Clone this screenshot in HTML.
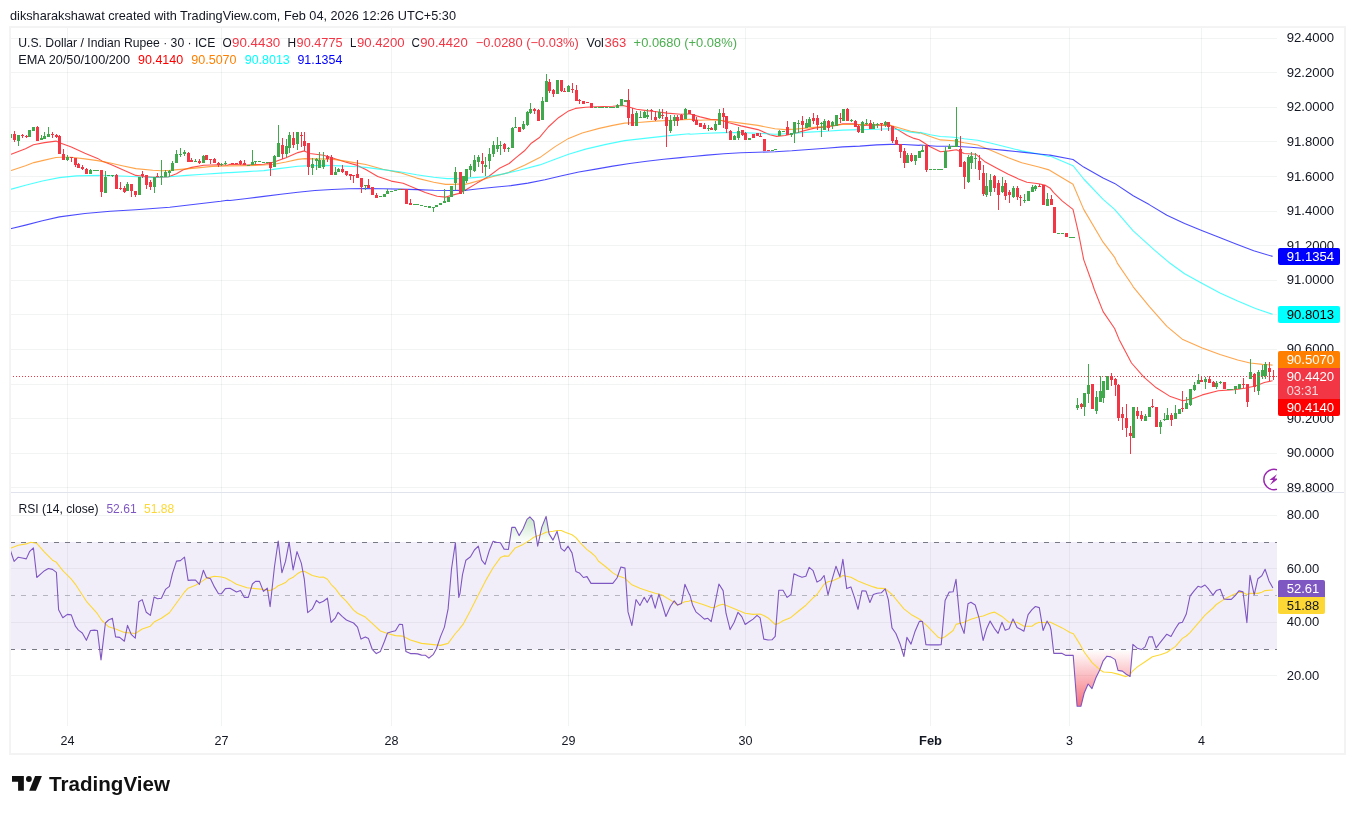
<!DOCTYPE html>
<html><head><meta charset="utf-8"><title>USDINR chart</title>
<style>html,body{margin:0;padding:0;background:#fff;overflow:hidden}body{width:1355px;height:814px;font-family:"Liberation Sans",sans-serif}svg{display:block;will-change:transform}</style></head>
<body>
<svg width="1355" height="814" viewBox="0 0 1355 814" font-family="Liberation Sans, sans-serif">
<defs>
<clipPath id="cm"><rect x="10.0" y="27.0" width="1267.0" height="465.5"/></clipPath>
<clipPath id="cr"><rect x="10.0" y="492.5" width="1267.0" height="233.5"/></clipPath>
<linearGradient id="gob" gradientUnits="userSpaceOnUse" x1="0" y1="462.1" x2="0" y2="542.5"><stop offset="0" stop-color="#4caf50" stop-opacity="1"/><stop offset="1" stop-color="#4caf50" stop-opacity="0"/></linearGradient>
<linearGradient id="gos" gradientUnits="userSpaceOnUse" x1="0" y1="649.5" x2="0" y2="728.9"><stop offset="0" stop-color="#f23645" stop-opacity="0"/><stop offset="1" stop-color="#f23645" stop-opacity="1"/></linearGradient>
</defs>
<rect width="1355" height="814" fill="#ffffff"/>
<path d="M67.5 27.0V726.0M221.5 27.0V726.0M391.5 27.0V726.0M568.5 27.0V726.0M745.5 27.0V726.0M930.5 27.0V726.0M1069.5 27.0V726.0M1201.5 27.0V726.0" stroke="#2a2e39" stroke-opacity="0.06" stroke-width="1" fill="none" shape-rendering="crispEdges"/>
<path d="M10.0 38.5H1277.0M10.0 72.5H1277.0M10.0 107.5H1277.0M10.0 141.5H1277.0M10.0 176.5H1277.0M10.0 211.5H1277.0M10.0 245.5H1277.0M10.0 280.5H1277.0M10.0 314.5H1277.0M10.0 349.5H1277.0M10.0 384.5H1277.0M10.0 418.5H1277.0M10.0 453.5H1277.0M10.0 487.5H1277.0M10.0 515.5H1277.0M10.0 568.5H1277.0M10.0 622.5H1277.0M10.0 675.5H1277.0" stroke="#2a2e39" stroke-opacity="0.06" stroke-width="1" fill="none" shape-rendering="crispEdges"/>
<rect x="10.0" y="542.0" width="1267.0" height="107.5" fill="#7e57c2" fill-opacity="0.1"/>
<g clip-path="url(#cm)">
<path d="M10.5 154.6L25.5 148.7L33.4 144.8L44.5 142.6L56.0 141.1L60.3 143.1L71.3 147.0L84.9 153.3L97.6 158.4L101.8 160.9L110.3 164.3L122.2 169.4L135.8 175.4L144.3 176.5L152.8 177.4L168.0 177.0L176.5 173.7L183.3 169.7L191.8 167.4L203.7 165.2L219.0 164.7L227.5 165.2L230.0 164.2L247.0 165.0L263.9 164.2L274.1 162.0L286.0 157.7L297.9 152.6L304.3 150.9L309.8 153.5L323.4 155.2L331.8 157.7L345.4 162.0L357.3 165.4L365.8 169.6L377.7 176.4L391.3 181.1L403.1 183.2L413.3 187.4L425.2 192.5L437.1 196.2L445.6 197.1L452.4 195.1L459.2 193.4L466.8 189.3L477.0 183.1L488.9 176.3L499.0 168.6L509.2 163.5L516.0 157.6L524.5 150.8L531.3 143.2L539.8 137.2L548.3 127.0L558.5 117.7L568.6 110.9L575.4 108.4L585.6 107.2L595.8 106.7L612.8 106.3L623.0 105.5L628.0 106.7L636.5 109.2L646.7 110.6L656.9 111.8L667.1 113.1L680.7 114.3L689.2 114.0L690.0 114.0L700.2 116.9L710.4 119.4L718.9 119.7L729.0 122.8L740.9 125.9L757.9 129.6L769.8 134.7L776.6 136.4L785.1 135.5L795.2 133.3L805.4 130.4L815.6 127.9L825.8 127.0L836.0 125.4L842.8 123.7L853.0 123.7L863.1 125.4L876.7 125.0L890.3 125.4L898.8 130.4L907.3 135.5L914.1 138.4L919.2 139.8L920.0 140.2L930.2 146.7L940.4 151.8L948.9 150.9L956.5 149.7L964.1 153.5L976.0 154.3L984.5 161.4L996.4 167.9L1008.3 174.2L1018.5 178.9L1026.9 182.3L1038.8 183.7L1045.6 185.4L1049.9 187.9L1053.5 192.3L1062.4 201.1L1073.0 209.4L1078.3 232.1L1083.7 259.6L1092.5 284.0L1094.3 289.5L1103.1 311.6L1114.6 328.5L1119.1 339.4L1131.5 363.0L1143.9 377.2L1156.3 387.8L1170.4 396.6L1182.8 400.7L1191.7 398.9L1202.3 394.9L1218.3 390.8L1234.2 389.6L1244.8 388.3L1255.5 386.0L1264.3 382.5L1272.6 380.7" stroke="#ff0000" stroke-width="1.1" stroke-opacity="0.7" fill="none" stroke-linejoin="round"/>
<path d="M10.5 170.8L25.5 165.7L33.9 162.6L44.5 160.1L56.0 157.5L61.1 157.2L71.3 157.2L84.9 158.9L97.6 160.6L110.3 163.0L122.2 165.7L135.8 168.6L152.8 170.3L161.3 170.8L169.7 170.4L183.3 169.1L195.2 168.1L212.2 166.4L227.5 166.0L230.0 165.9L247.0 165.7L263.9 165.0L274.1 164.2L286.0 162.0L297.9 159.4L304.7 158.6L314.9 158.9L331.8 159.1L345.4 161.1L357.3 163.1L365.8 164.5L382.8 169.3L399.7 172.6L416.7 178.1L433.7 182.3L445.6 184.4L454.1 184.4L459.2 184.0L460.0 185.6L470.2 183.1L482.1 179.7L493.9 176.3L507.5 172.9L524.5 165.2L539.8 157.6L555.1 146.6L568.6 138.4L582.2 133.0L599.2 128.4L612.8 125.4L624.6 123.1L638.2 122.5L655.2 121.1L672.2 120.3L689.2 119.4L690.0 119.4L700.2 120.3L710.4 119.7L723.9 120.8L740.9 123.1L757.9 125.4L774.9 128.7L785.1 129.6L795.2 129.1L808.8 127.9L825.8 126.2L842.8 124.5L859.7 124.5L876.7 124.5L890.3 125.4L902.2 128.7L910.7 131.3L919.2 132.6L920.0 132.8L930.2 136.5L940.4 139.9L953.9 140.7L964.1 142.8L977.7 145.0L991.3 150.6L1008.3 157.7L1021.8 162.8L1038.8 167.0L1049.0 169.9L1050.0 170.5L1073.0 184.3L1083.7 209.4L1103.1 242.2L1114.6 257.3L1117.3 263.1L1131.5 284.0L1133.2 286.8L1149.2 306.3L1166.9 326.3L1182.8 339.6L1202.3 347.9L1220.0 354.5L1237.7 360.0L1250.1 363.0L1262.5 364.4L1272.6 365.1" stroke="#ff8000" stroke-width="1.1" stroke-opacity="0.7" fill="none" stroke-linejoin="round"/>
<path d="M10.5 189.4L25.5 185.2L42.4 181.0L59.4 177.6L76.4 175.9L101.8 175.4L127.3 176.2L140.9 177.0L152.8 177.4L169.7 176.7L186.7 175.4L203.7 174.2L220.7 173.1L227.5 172.6L230.0 172.6L247.0 171.6L263.9 170.6L280.9 168.4L297.9 166.2L306.4 165.9L323.4 165.4L340.3 165.9L357.3 166.7L365.8 167.4L382.8 169.6L399.7 171.8L416.7 174.7L433.7 177.2L447.3 178.6L459.2 178.4L460.0 178.8L473.6 177.6L487.2 176.8L502.4 174.1L519.4 170.3L539.8 164.9L555.1 159.3L568.6 154.2L585.6 149.1L606.0 144.4L624.6 140.6L646.7 138.1L667.1 135.9L689.2 133.8L690.0 134.2L707.0 133.3L723.9 132.6L740.9 132.6L757.9 133.3L774.9 134.2L791.8 133.5L808.8 132.1L825.8 131.3L842.8 130.1L859.7 129.6L876.7 129.3L890.3 128.7L898.8 129.6L910.7 132.1L919.2 133.3L920.0 132.3L930.2 134.8L940.4 136.5L953.9 137.3L964.1 138.7L977.7 140.2L991.3 143.3L1008.3 147.5L1021.8 150.9L1038.8 154.0L1049.0 156.5L1050.0 155.9L1073.0 165.7L1083.7 179.0L1103.1 199.3L1114.6 209.4L1133.2 230.9L1154.5 250.2L1168.7 262.2L1184.6 273.7L1202.3 283.5L1220.0 293.0L1237.7 301.0L1255.5 308.4L1272.6 314.3" stroke="#00ffff" stroke-width="1.1" stroke-opacity="0.7" fill="none" stroke-linejoin="round"/>
<path d="M10.5 228.8L25.5 225.1L42.4 220.7L59.4 216.9L84.9 213.5L110.3 211.3L135.8 209.8L169.7 207.3L195.2 204.2L220.7 201.3L227.5 200.3L230.0 200.5L247.0 198.5L263.9 196.4L280.9 194.2L297.9 192.2L314.9 190.5L331.8 189.5L348.8 188.8L365.8 188.6L382.8 188.8L399.7 189.1L416.7 189.6L433.7 190.3L450.7 190.5L459.2 190.3L460.0 191.0L477.0 189.0L493.9 187.3L510.9 185.6L527.9 183.1L544.9 179.7L561.8 175.8L578.8 172.0L595.8 169.1L612.8 166.1L629.7 163.5L646.7 161.3L663.7 159.3L680.7 157.6L689.2 156.8L690.0 156.8L707.0 155.1L723.9 153.7L740.9 152.8L757.9 152.2L774.9 151.7L791.8 150.8L808.8 149.5L825.8 148.3L842.8 146.9L859.7 146.1L876.7 144.9L890.3 144.4L903.9 144.5L919.2 145.4L920.0 145.0L937.0 146.2L953.9 146.3L970.9 147.2L987.9 148.7L1004.9 150.4L1021.8 152.1L1038.8 154.0L1049.0 155.0L1050.0 155.1L1073.0 159.5L1083.7 167.1L1103.1 178.1L1114.6 183.4L1133.2 195.8L1149.2 204.6L1166.9 215.3L1184.6 223.6L1202.3 230.7L1218.3 237.1L1236.0 244.0L1253.7 250.7L1272.6 256.4" stroke="#0000ff" stroke-width="1.1" stroke-opacity="0.7" fill="none" stroke-linejoin="round"/>
<path d="M10 133h1v6h-1zM18 135h1v11h-1zM29 130h1v7h-1zM33 127h1v4h-1zM41 135h1v5h-1zM44 132h1v7h-1zM48 127h1v10h-1zM67 155h1v6h-1zM90 169h1v5h-1zM94 170h1v1h-1zM97 170h1v1h-1zM105 171h1v22h-1zM108 175h1v1h-1zM112 175h1v2h-1zM127 182h1v9h-1zM139 177h1v18h-1zM154 177h1v16h-1zM161 160h1v25h-1zM165 170h1v7h-1zM169 170h1v7h-1zM172 161h1v10h-1zM176 150h1v13h-1zM180 148h1v9h-1zM184 150h1v6h-1zM195 159h1v3h-1zM203 155h1v8h-1zM221 163h1v3h-1zM225 161h1v4h-1zM248 165h1v1h-1zM252 150h1v15h-1zM255 161h1v3h-1zM259 161h1v1h-1zM263 162h1v1h-1zM267 162h1v1h-1zM274 155h1v12h-1zM278 125h1v32h-1zM286 139h1v18h-1zM289 132h1v21h-1zM297 132h1v18h-1zM312 158h1v17h-1zM316 158h1v12h-1zM319 152h1v16h-1zM323 152h1v17h-1zM335 167h1v8h-1zM338 168h1v4h-1zM365 185h1v5h-1zM380 196h1v1h-1zM384 194h1v3h-1zM387 189h1v5h-1zM391 191h1v1h-1zM395 190h1v1h-1zM399 189h1v1h-1zM414 204h1v1h-1zM417 204h1v1h-1zM421 205h1v1h-1zM425 206h1v1h-1zM429 206h1v2h-1zM433 207h1v5h-1zM436 205h1v2h-1zM440 203h1v2h-1zM444 189h1v14h-1zM448 197h1v5h-1zM451 186h1v11h-1zM455 167h1v23h-1zM463 176h1v18h-1zM466 169h1v14h-1zM470 164h1v13h-1zM474 155h1v17h-1zM478 155h1v12h-1zM485 157h1v19h-1zM489 148h1v21h-1zM493 141h1v16h-1zM497 137h1v15h-1zM500 141h1v14h-1zM508 147h1v5h-1zM512 127h1v21h-1zM515 117h1v11h-1zM523 121h1v9h-1zM527 111h1v15h-1zM530 103h1v11h-1zM542 97h1v23h-1zM546 74h1v28h-1zM557 80h1v14h-1zM568 85h1v7h-1zM595 107h1v1h-1zM599 107h1v1h-1zM602 107h1v1h-1zM606 107h1v1h-1zM610 107h1v1h-1zM613 107h1v1h-1zM617 104h1v4h-1zM621 99h1v7h-1zM625 100h1v2h-1zM636 111h1v15h-1zM640 111h1v7h-1zM644 111h1v7h-1zM647 109h1v10h-1zM659 109h1v10h-1zM670 115h1v18h-1zM674 115h1v11h-1zM685 108h1v11h-1zM708 125h1v6h-1zM715 121h1v10h-1zM719 109h1v16h-1zM734 135h1v5h-1zM738 127h1v13h-1zM749 138h1v2h-1zM772 150h1v1h-1zM775 149h1v1h-1zM779 130h1v6h-1zM783 131h1v1h-1zM791 133h1v4h-1zM794 122h1v21h-1zM798 120h1v13h-1zM806 119h1v9h-1zM809 117h1v10h-1zM821 122h1v15h-1zM824 119h1v11h-1zM832 121h1v8h-1zM836 115h1v11h-1zM843 109h1v12h-1zM851 119h1v3h-1zM862 121h1v12h-1zM866 119h1v6h-1zM873 122h1v7h-1zM877 123h1v5h-1zM885 121h1v6h-1zM907 153h1v10h-1zM915 155h1v10h-1zM919 151h1v7h-1zM922 145h1v7h-1zM930 169h1v1h-1zM934 169h1v1h-1zM938 169h1v1h-1zM941 169h1v1h-1zM945 147h1v21h-1zM949 144h1v5h-1zM953 146h1v1h-1zM956 107h1v40h-1zM968 155h1v28h-1zM971 152h1v17h-1zM975 153h1v16h-1zM986 173h1v24h-1zM990 174h1v22h-1zM1002 177h1v16h-1zM1013 186h1v12h-1zM1024 194h1v9h-1zM1028 191h1v10h-1zM1032 185h1v7h-1zM1035 185h1v6h-1zM1047 193h1v13h-1zM1058 233h1v1h-1zM1062 233h1v1h-1zM1070 237h1v1h-1zM1073 237h1v1h-1zM1077 398h1v12h-1zM1084 393h1v23h-1zM1088 364h1v39h-1zM1096 391h1v23h-1zM1100 376h1v26h-1zM1103 381h1v22h-1zM1107 376h1v14h-1zM1133 407h1v31h-1zM1145 414h1v7h-1zM1149 407h1v10h-1zM1160 420h1v14h-1zM1164 413h1v8h-1zM1167 408h1v12h-1zM1175 405h1v14h-1zM1179 409h1v5h-1zM1186 397h1v12h-1zM1190 389h1v17h-1zM1194 382h1v9h-1zM1198 374h1v10h-1zM1205 377h1v12h-1zM1216 381h1v8h-1zM1220 381h1v3h-1zM1228 389h1v1h-1zM1231 389h1v1h-1zM1235 386h1v8h-1zM1239 384h1v5h-1zM1250 359h1v20h-1zM1258 370h1v25h-1zM1262 365h1v14h-1zM1265 362h1v17h-1zM9 134h3v4h-3zM17 135h3v6h-3zM28 130h3v7h-3zM32 127h3v4h-3zM40 138h3v2h-3zM43 136h3v3h-3zM47 134h3v3h-3zM66 157h3v3h-3zM89 170h3v4h-3zM93 170h3v1h-3zM96 170h3v1h-3zM104 177h3v16h-3zM107 175h3v1h-3zM111 175h3v1h-3zM126 184h3v7h-3zM138 177h3v18h-3zM153 177h3v10h-3zM160 176h3v1h-3zM164 172h3v5h-3zM168 171h3v2h-3zM171 163h3v8h-3zM175 154h3v9h-3zM179 154h3v1h-3zM183 152h3v2h-3zM194 161h3v1h-3zM202 156h3v7h-3zM220 164h3v1h-3zM224 163h3v1h-3zM247 165h3v1h-3zM251 162h3v3h-3zM254 161h3v1h-3zM258 161h3v1h-3zM262 162h3v1h-3zM266 162h3v1h-3zM273 156h3v11h-3zM277 143h3v14h-3zM285 146h3v8h-3zM288 135h3v13h-3zM296 132h3v12h-3zM311 164h3v4h-3zM315 159h3v2h-3zM318 160h3v8h-3zM322 160h3v7h-3zM334 172h3v3h-3zM337 169h3v3h-3zM364 185h3v1h-3zM379 196h3v1h-3zM383 194h3v3h-3zM386 191h3v3h-3zM390 191h3v1h-3zM394 190h3v1h-3zM398 189h3v1h-3zM413 204h3v1h-3zM416 204h3v1h-3zM420 205h3v1h-3zM424 206h3v1h-3zM428 206h3v2h-3zM432 207h3v1h-3zM435 205h3v2h-3zM439 203h3v2h-3zM443 201h3v2h-3zM447 197h3v5h-3zM450 186h3v11h-3zM454 172h3v11h-3zM462 176h3v15h-3zM465 169h3v12h-3zM469 166h3v4h-3zM473 160h3v11h-3zM477 157h3v5h-3zM484 165h3v2h-3zM488 154h3v7h-3zM492 145h3v9h-3zM496 145h3v4h-3zM499 145h3v1h-3zM507 148h3v1h-3zM511 128h3v20h-3zM514 127h3v1h-3zM522 124h3v5h-3zM526 112h3v13h-3zM529 109h3v4h-3zM541 101h3v19h-3zM545 81h3v21h-3zM556 80h3v14h-3zM567 86h3v6h-3zM594 107h3v1h-3zM598 107h3v1h-3zM601 107h3v1h-3zM605 107h3v1h-3zM609 107h3v1h-3zM612 107h3v1h-3zM616 105h3v3h-3zM620 99h3v7h-3zM624 100h3v2h-3zM635 113h3v13h-3zM639 117h3v1h-3zM643 112h3v6h-3zM646 115h3v2h-3zM658 112h3v6h-3zM669 120h3v11h-3zM673 117h3v4h-3zM684 109h3v10h-3zM707 128h3v1h-3zM714 124h3v6h-3zM718 113h3v12h-3zM733 136h3v4h-3zM737 131h3v7h-3zM748 138h3v2h-3zM771 150h3v1h-3zM774 149h3v1h-3zM778 131h3v5h-3zM782 131h3v1h-3zM790 133h3v2h-3zM793 122h3v11h-3zM797 123h3v1h-3zM805 123h3v5h-3zM808 119h3v8h-3zM820 123h3v1h-3zM823 121h3v9h-3zM831 122h3v4h-3zM835 115h3v11h-3zM842 109h3v12h-3zM850 120h3v1h-3zM861 122h3v11h-3zM865 123h3v1h-3zM872 124h3v5h-3zM876 124h3v1h-3zM884 122h3v3h-3zM906 155h3v8h-3zM914 155h3v6h-3zM918 151h3v7h-3zM921 150h3v2h-3zM929 169h3v1h-3zM933 169h3v1h-3zM937 169h3v1h-3zM940 169h3v1h-3zM944 151h3v17h-3zM948 146h3v3h-3zM952 146h3v1h-3zM955 139h3v8h-3zM967 157h3v25h-3zM970 156h3v7h-3zM974 158h3v1h-3zM985 186h3v9h-3zM989 180h3v12h-3zM1001 186h3v6h-3zM1012 188h3v9h-3zM1023 200h3v1h-3zM1027 191h3v10h-3zM1031 187h3v5h-3zM1034 186h3v3h-3zM1046 199h3v7h-3zM1057 233h3v1h-3zM1061 233h3v1h-3zM1069 237h3v1h-3zM1072 237h3v1h-3zM1076 405h3v3h-3zM1083 393h3v14h-3zM1087 385h3v9h-3zM1095 397h3v14h-3zM1099 391h3v11h-3zM1102 381h3v17h-3zM1106 376h3v14h-3zM1132 407h3v31h-3zM1144 416h3v5h-3zM1148 407h3v10h-3zM1159 422h3v5h-3zM1163 419h3v1h-3zM1166 415h3v5h-3zM1174 413h3v6h-3zM1178 409h3v5h-3zM1185 403h3v6h-3zM1189 389h3v16h-3zM1193 385h3v5h-3zM1197 380h3v4h-3zM1204 379h3v3h-3zM1215 383h3v4h-3zM1219 382h3v1h-3zM1227 389h3v1h-3zM1230 389h3v1h-3zM1234 386h3v3h-3zM1238 384h3v5h-3zM1249 372h3v7h-3zM1257 372h3v19h-3zM1261 370h3v6h-3zM1264 364h3v12h-3z" fill="#3fa94b" shape-rendering="crispEdges"/>
<path d="M14 131h1v11h-1zM22 134h1v4h-1zM26 135h1v3h-1zM37 126h1v15h-1zM52 132h1v6h-1zM56 134h1v4h-1zM59 135h1v19h-1zM63 149h1v11h-1zM71 157h1v5h-1zM75 158h1v9h-1zM78 163h1v5h-1zM82 165h1v5h-1zM86 168h1v6h-1zM101 170h1v27h-1zM116 174h1v15h-1zM120 182h1v8h-1zM124 186h1v7h-1zM131 184h1v13h-1zM135 191h1v6h-1zM142 171h1v7h-1zM146 175h1v14h-1zM150 180h1v10h-1zM157 173h1v4h-1zM188 152h1v10h-1zM191 158h1v4h-1zM199 159h1v5h-1zM206 155h1v5h-1zM210 159h1v5h-1zM214 158h1v5h-1zM218 162h1v5h-1zM232 163h1v1h-1zM236 163h1v1h-1zM240 160h1v5h-1zM244 160h1v5h-1zM270 162h1v14h-1zM282 138h1v21h-1zM293 132h1v16h-1zM301 132h1v15h-1zM304 132h1v19h-1zM308 143h1v32h-1zM327 155h1v7h-1zM331 155h1v20h-1zM342 165h1v8h-1zM346 171h1v5h-1zM350 174h1v6h-1zM353 175h1v8h-1zM357 160h1v18h-1zM361 178h1v15h-1zM368 179h1v9h-1zM372 187h1v8h-1zM376 193h1v5h-1zM402 189h1v1h-1zM406 189h1v15h-1zM410 199h1v6h-1zM460 172h1v22h-1zM482 153h1v20h-1zM504 143h1v9h-1zM519 127h1v5h-1zM534 108h1v6h-1zM538 109h1v12h-1zM549 79h1v14h-1zM553 89h1v8h-1zM561 80h1v12h-1zM564 88h1v4h-1zM572 83h1v10h-1zM576 85h1v16h-1zM579 99h1v5h-1zM583 101h1v3h-1zM587 102h1v1h-1zM591 103h1v5h-1zM628 89h1v36h-1zM632 108h1v18h-1zM651 109h1v11h-1zM655 111h1v10h-1zM662 109h1v10h-1zM666 111h1v36h-1zM677 115h1v11h-1zM681 114h1v6h-1zM689 110h1v4h-1zM693 114h1v8h-1zM696 117h1v8h-1zM700 123h1v4h-1zM704 123h1v6h-1zM711 127h1v3h-1zM723 108h1v20h-1zM726 116h1v17h-1zM730 130h1v10h-1zM742 130h1v6h-1zM745 132h1v8h-1zM753 134h1v4h-1zM757 133h1v3h-1zM760 133h1v4h-1zM764 139h1v12h-1zM768 150h1v1h-1zM787 121h1v14h-1zM802 116h1v21h-1zM813 113h1v11h-1zM817 115h1v15h-1zM828 120h1v11h-1zM840 113h1v10h-1zM847 108h1v13h-1zM855 120h1v7h-1zM858 125h1v8h-1zM870 120h1v9h-1zM881 123h1v8h-1zM888 122h1v9h-1zM892 126h1v17h-1zM896 137h1v8h-1zM900 144h1v14h-1zM904 148h1v20h-1zM911 153h1v9h-1zM926 145h1v27h-1zM960 136h1v31h-1zM964 161h1v28h-1zM979 155h1v25h-1zM983 165h1v31h-1zM994 175h1v17h-1zM998 180h1v30h-1zM1005 180h1v20h-1zM1009 190h1v13h-1zM1017 186h1v14h-1zM1020 195h1v11h-1zM1039 184h1v3h-1zM1043 185h1v20h-1zM1051 195h1v10h-1zM1054 207h1v26h-1zM1066 233h1v4h-1zM1081 403h1v6h-1zM1092 384h1v25h-1zM1111 373h1v13h-1zM1115 378h1v18h-1zM1118 384h1v37h-1zM1122 407h1v23h-1zM1126 404h1v33h-1zM1130 426h1v28h-1zM1137 407h1v12h-1zM1141 411h1v10h-1zM1152 399h1v9h-1zM1156 407h1v20h-1zM1171 413h1v13h-1zM1182 391h1v21h-1zM1201 376h1v6h-1zM1209 376h1v7h-1zM1213 381h1v6h-1zM1224 382h1v7h-1zM1243 378h1v10h-1zM1247 384h1v23h-1zM1254 373h1v19h-1zM1269 362h1v19h-1zM1273 370h1v10h-1zM13 134h3v6h-3zM21 135h3v1h-3zM25 136h3v1h-3zM36 127h3v14h-3zM51 134h3v1h-3zM55 135h3v2h-3zM58 136h3v18h-3zM62 154h3v6h-3zM70 157h3v1h-3zM74 158h3v7h-3zM77 164h3v4h-3zM81 167h3v2h-3zM85 169h3v5h-3zM100 170h3v22h-3zM115 175h3v14h-3zM119 188h3v1h-3zM123 188h3v4h-3zM130 184h3v7h-3zM134 191h3v4h-3zM141 174h3v2h-3zM145 175h3v10h-3zM149 182h3v5h-3zM156 176h3v1h-3zM187 153h3v9h-3zM190 160h3v2h-3zM198 161h3v2h-3zM205 155h3v5h-3zM209 159h3v1h-3zM213 159h3v4h-3zM217 163h3v2h-3zM231 163h3v1h-3zM235 163h3v1h-3zM239 161h3v3h-3zM243 163h3v2h-3zM269 162h3v6h-3zM281 145h3v9h-3zM292 138h3v7h-3zM300 135h3v1h-3zM303 141h3v5h-3zM307 143h3v24h-3zM326 156h3v3h-3zM330 157h3v18h-3zM341 169h3v3h-3zM345 171h3v4h-3zM349 174h3v2h-3zM352 175h3v1h-3zM356 174h3v4h-3zM360 178h3v9h-3zM367 185h3v3h-3zM371 187h3v8h-3zM375 195h3v3h-3zM401 189h3v1h-3zM405 189h3v15h-3zM409 203h3v2h-3zM459 172h3v22h-3zM481 161h3v3h-3zM503 144h3v5h-3zM518 127h3v5h-3zM533 109h3v2h-3zM537 110h3v11h-3zM548 82h3v9h-3zM552 90h3v4h-3zM560 80h3v11h-3zM563 91h3v1h-3zM571 89h3v1h-3zM575 90h3v11h-3zM578 100h3v1h-3zM582 101h3v3h-3zM586 102h3v1h-3zM590 103h3v5h-3zM627 100h3v18h-3zM631 114h3v12h-3zM650 110h3v1h-3zM654 117h3v3h-3zM661 115h3v1h-3zM665 117h3v9h-3zM676 117h3v4h-3zM680 115h3v5h-3zM688 110h3v4h-3zM692 114h3v7h-3zM695 120h3v5h-3zM699 123h3v4h-3zM703 125h3v4h-3zM710 128h3v2h-3zM722 113h3v4h-3zM725 116h3v13h-3zM729 131h3v9h-3zM741 130h3v5h-3zM744 133h3v7h-3zM752 134h3v4h-3zM756 133h3v3h-3zM759 136h3v1h-3zM763 139h3v12h-3zM767 150h3v1h-3zM786 127h3v8h-3zM801 121h3v4h-3zM812 118h3v3h-3zM816 118h3v7h-3zM827 121h3v7h-3zM839 118h3v1h-3zM846 109h3v12h-3zM854 121h3v6h-3zM857 126h3v6h-3zM869 123h3v6h-3zM880 123h3v1h-3zM887 122h3v5h-3zM891 126h3v15h-3zM895 140h3v5h-3zM899 144h3v8h-3zM903 151h3v12h-3zM910 155h3v6h-3zM925 145h3v25h-3zM959 149h3v18h-3zM963 162h3v15h-3zM978 161h3v9h-3zM982 173h3v21h-3zM993 176h3v12h-3zM997 183h3v12h-3zM1004 183h3v13h-3zM1008 192h3v3h-3zM1016 188h3v9h-3zM1019 197h3v1h-3zM1038 186h3v1h-3zM1042 185h3v20h-3zM1050 199h3v6h-3zM1053 207h3v26h-3zM1065 233h3v4h-3zM1080 404h3v3h-3zM1091 384h3v25h-3zM1110 376h3v4h-3zM1114 379h3v6h-3zM1117 385h3v33h-3zM1121 414h3v4h-3zM1125 418h3v10h-3zM1129 433h3v3h-3zM1136 411h3v5h-3zM1140 415h3v4h-3zM1151 406h3v1h-3zM1155 407h3v20h-3zM1170 415h3v5h-3zM1181 408h3v1h-3zM1200 380h3v2h-3zM1208 379h3v4h-3zM1212 382h3v5h-3zM1223 382h3v7h-3zM1242 384h3v1h-3zM1246 384h3v18h-3zM1253 374h3v13h-3zM1268 368h3v4h-3zM1272 376h3v1h-3z" fill="#f23645" shape-rendering="crispEdges"/>
<path d="M10 376.5H1277.0" stroke="#f23645" stroke-width="1" stroke-dasharray="1 2" fill="none" shape-rendering="crispEdges"/>
</g>
<g clip-path="url(#cm)"><circle cx="1274" cy="479.5" r="10.2" fill="#ffffff" stroke="#9c27b0" stroke-width="1.4"/><path d="M1276.9 474.3L1269.4 480H1273.2L1270 484.9L1278.5 478.5H1274.6Z" fill="#9c27b0"/></g>
<g clip-path="url(#cr)">
<path d="M10.5 542.5L14.1 542.5L18.3 542.5L22.2 542.5L26.3 542.5L29.5 542.5L33.4 542.5L36.8 542.5L41.4 542.5L44.5 542.5L48.4 542.5L52.5 542.5L56.4 542.5L58.6 542.5L62.8 542.5L67.4 542.5L71.3 542.5L75.4 542.5L78.4 542.5L82.3 542.5L86.4 542.5L90.5 542.5L94.4 542.5L97.4 542.5L101.0 542.5L105.4 542.5L108.6 542.5L112.4 542.5L115.6 542.5L119.7 542.5L124.4 542.5L127.5 542.5L131.4 542.5L135.3 542.5L138.8 542.5L142.2 542.5L146.3 542.5L150.4 542.5L154.1 542.5L157.5 542.5L161.4 542.5L165.5 542.5L169.4 542.5L172.5 542.5L176.5 542.5L180.4 542.5L184.5 542.5L188.1 542.5L191.5 542.5L195.5 542.5L199.4 542.5L203.4 542.5L206.4 542.5L210.5 542.5L214.4 542.5L218.5 542.5L221.5 542.5L225.4 542.5L230.0 542.5L236.5 542.5L240.5 542.5L244.4 542.5L248.3 542.5L252.4 542.5L255.5 542.5L259.5 542.5L263.4 542.5L267.3 542.5L270.1 542.5L274.5 542.5L278.2 541.0L281.9 542.5L285.5 542.5L289.1 542.2L293.1 542.5L297.0 542.5L301.3 542.5L304.3 542.5L307.7 542.5L312.3 542.5L316.4 542.5L319.5 542.5L323.4 542.5L327.4 542.5L331.0 542.5L335.4 542.5L338.1 542.5L342.4 542.5L346.4 542.5L350.5 542.5L353.6 542.5L357.5 542.5L361.0 542.5L365.3 542.5L368.5 542.5L372.2 542.5L376.3 542.5L380.4 542.5L384.5 542.5L387.5 542.5L391.4 542.5L395.5 542.5L399.4 542.5L402.5 542.5L405.9 542.5L410.4 542.5L414.5 542.5L417.6 542.5L421.5 542.5L425.5 542.5L428.9 542.5L433.4 542.5L436.4 542.5L440.5 542.5L444.4 542.5L448.1 542.5L451.5 542.5L455.4 542.5L458.8 542.5L460.0 542.5L462.5 542.5L465.9 542.5L470.5 542.5L474.4 542.5L478.3 542.5L481.7 542.5L485.1 542.5L489.2 542.5L493.1 541.2L496.5 542.3L500.4 542.5L504.1 542.5L508.4 542.5L511.8 527.4L515.2 527.4L519.1 535.6L523.1 528.8L527.0 519.4L529.9 516.9L533.8 521.1L537.7 542.5L541.8 527.1L546.1 516.4L549.1 533.9L553.0 540.1L557.1 531.3L561.0 542.5L564.4 542.5L568.1 542.5L572.0 542.5L575.9 542.5L579.3 542.5L583.4 542.5L587.0 542.5L591.0 542.5L595.3 542.5L612.8 542.5L617.0 542.5L620.9 542.5L625.0 542.5L628.0 542.5L631.9 542.5L636.0 542.5L639.9 542.5L644.2 542.5L647.2 542.5L651.3 542.5L655.2 542.5L658.9 542.5L662.0 542.5L665.9 542.5L670.5 542.5L674.2 542.5L677.6 542.5L681.5 542.5L684.9 542.5L689.2 542.5L690.0 542.5L692.5 542.5L695.9 542.5L700.5 542.5L704.4 542.5L707.8 542.5L711.2 542.5L715.1 542.5L718.9 542.5L723.1 542.5L726.0 542.5L730.1 542.5L734.1 542.5L738.0 542.5L741.8 542.5L745.2 542.5L749.1 542.5L753.1 542.5L757.0 542.5L760.1 542.5L763.8 542.5L768.1 542.5L772.0 542.5L775.2 542.5L778.8 542.5L783.0 542.5L787.1 542.5L791.0 542.5L793.9 542.5L798.1 542.5L802.0 542.5L805.9 542.5L809.2 542.5L813.1 542.5L817.0 542.5L821.0 542.5L824.1 542.5L828.0 542.5L832.2 542.5L836.0 542.5L839.9 542.5L842.9 542.5L846.7 542.5L850.9 542.5L854.6 542.5L858.0 542.5L861.9 542.5L866.0 542.5L869.9 542.5L873.3 542.5L877.2 542.5L881.3 542.5L885.2 542.5L888.3 542.5L892.0 542.5L895.9 542.5L900.0 542.5L903.9 542.5L906.9 542.5L911.0 542.5L914.9 542.5L919.2 542.5L920.0 542.5L922.5 542.5L925.9 542.5L930.5 542.5L934.4 542.5L938.3 542.5L941.2 542.5L945.1 542.5L949.2 542.5L953.1 542.5L956.0 542.5L960.1 542.5L964.1 542.5L968.0 542.5L970.9 542.5L975.2 542.5L979.1 542.5L983.1 542.5L986.5 542.5L990.1 542.5L994.3 542.5L998.1 542.5L1002.0 542.5L1005.2 542.5L1009.1 542.5L1013.0 542.5L1017.1 542.5L1021.0 542.5L1023.9 542.5L1028.1 542.5L1032.0 542.5L1035.4 542.5L1039.3 542.5L1043.1 542.5L1047.0 542.5L1049.9 542.5L1051.1 542.5L1053.8 542.5L1057.7 542.5L1062.1 542.5L1066.0 542.5L1069.9 542.5L1073.2 542.5L1077.1 542.5L1080.9 542.5L1084.2 542.5L1088.1 542.5L1092.0 542.5L1095.9 542.5L1099.7 542.5L1103.0 542.5L1106.9 542.5L1110.8 542.5L1115.2 542.5L1118.0 542.5L1122.4 542.5L1126.3 542.5L1130.1 542.5L1132.9 542.5L1137.4 542.5L1141.3 542.5L1145.1 542.5L1149.0 542.5L1152.4 542.5L1156.1 542.5L1160.3 542.5L1166.8 542.5L1171.0 542.5L1175.3 542.5L1179.0 542.5L1182.4 542.5L1186.3 542.5L1190.0 542.5L1194.3 542.5L1198.0 542.5L1201.1 542.5L1205.0 542.5L1208.7 542.5L1213.0 542.5L1216.3 542.5L1220.3 542.5L1224.0 542.5L1227.4 542.5L1231.3 542.5L1235.4 542.5L1238.9 542.5L1243.0 542.5L1246.9 542.5L1250.0 542.5L1254.2 542.5L1257.9 542.5L1261.8 542.5L1265.1 542.5L1269.0 542.5L1272.9 542.5L1272.9 542.5L10.5 542.5Z" fill="url(#gob)" stroke="none"/>
<path d="M10.5 649.5L14.1 649.5L18.3 649.5L22.2 649.5L26.3 649.5L29.5 649.5L33.4 649.5L36.8 649.5L41.4 649.5L44.5 649.5L48.4 649.5L52.5 649.5L56.4 649.5L58.6 649.5L62.8 649.5L67.4 649.5L71.3 649.5L75.4 649.5L78.4 649.5L82.3 649.5L86.4 649.5L90.5 649.5L94.4 649.5L97.4 649.5L101.0 659.9L105.4 649.5L108.6 649.5L112.4 649.5L115.6 649.5L119.7 649.5L124.4 649.5L127.5 649.5L131.4 649.5L135.3 649.5L138.8 649.5L142.2 649.5L146.3 649.5L150.4 649.5L154.1 649.5L157.5 649.5L161.4 649.5L165.5 649.5L169.4 649.5L172.5 649.5L176.5 649.5L180.4 649.5L184.5 649.5L188.1 649.5L191.5 649.5L195.5 649.5L199.4 649.5L203.4 649.5L206.4 649.5L210.5 649.5L214.4 649.5L218.5 649.5L221.5 649.5L225.4 649.5L230.0 649.5L236.5 649.5L240.5 649.5L244.4 649.5L248.3 649.5L252.4 649.5L255.5 649.5L259.5 649.5L263.4 649.5L267.3 649.5L270.1 649.5L274.5 649.5L278.2 649.5L281.9 649.5L285.5 649.5L289.1 649.5L293.1 649.5L297.0 649.5L301.3 649.5L304.3 649.5L307.7 649.5L312.3 649.5L316.4 649.5L319.5 649.5L323.4 649.5L327.4 649.5L331.0 649.5L335.4 649.5L338.1 649.5L342.4 649.5L346.4 649.5L350.5 649.5L353.6 649.5L357.5 649.5L361.0 649.5L365.3 649.5L368.5 649.5L372.2 649.5L376.3 653.6L380.4 651.4L384.5 649.5L387.5 649.5L391.4 649.5L395.5 649.5L399.4 649.5L402.5 649.5L405.9 651.4L410.4 653.6L414.5 653.6L417.6 653.9L421.5 655.1L425.5 655.3L428.9 658.2L433.4 654.3L436.4 649.5L440.5 649.5L444.4 649.5L448.1 649.5L451.5 649.5L455.4 649.5L458.8 649.5L460.0 649.5L462.5 649.5L465.9 649.5L470.5 649.5L474.4 649.5L478.3 649.5L481.7 649.5L485.1 649.5L489.2 649.5L493.1 649.5L496.5 649.5L500.4 649.5L504.1 649.5L508.4 649.5L511.8 649.5L515.2 649.5L519.1 649.5L523.1 649.5L527.0 649.5L529.9 649.5L533.8 649.5L537.7 649.5L541.8 649.5L546.1 649.5L549.1 649.5L553.0 649.5L557.1 649.5L561.0 649.5L564.4 649.5L568.1 649.5L572.0 649.5L575.9 649.5L579.3 649.5L583.4 649.5L587.0 649.5L591.0 649.5L595.3 649.5L612.8 649.5L617.0 649.5L620.9 649.5L625.0 649.5L628.0 649.5L631.9 649.5L636.0 649.5L639.9 649.5L644.2 649.5L647.2 649.5L651.3 649.5L655.2 649.5L658.9 649.5L662.0 649.5L665.9 649.5L670.5 649.5L674.2 649.5L677.6 649.5L681.5 649.5L684.9 649.5L689.2 649.5L690.0 649.5L692.5 649.5L695.9 649.5L700.5 649.5L704.4 649.5L707.8 649.5L711.2 649.5L715.1 649.5L718.9 649.5L723.1 649.5L726.0 649.5L730.1 649.5L734.1 649.5L738.0 649.5L741.8 649.5L745.2 649.5L749.1 649.5L753.1 649.5L757.0 649.5L760.1 649.5L763.8 649.5L768.1 649.5L772.0 649.5L775.2 649.5L778.8 649.5L783.0 649.5L787.1 649.5L791.0 649.5L793.9 649.5L798.1 649.5L802.0 649.5L805.9 649.5L809.2 649.5L813.1 649.5L817.0 649.5L821.0 649.5L824.1 649.5L828.0 649.5L832.2 649.5L836.0 649.5L839.9 649.5L842.9 649.5L846.7 649.5L850.9 649.5L854.6 649.5L858.0 649.5L861.9 649.5L866.0 649.5L869.9 649.5L873.3 649.5L877.2 649.5L881.3 649.5L885.2 649.5L888.3 649.5L892.0 649.5L895.9 649.5L900.0 649.5L903.9 656.5L906.9 649.5L911.0 649.5L914.9 649.5L919.2 649.5L920.0 649.5L922.5 649.5L925.9 649.5L930.5 649.5L934.4 649.5L938.3 649.5L941.2 649.5L945.1 649.5L949.2 649.5L953.1 649.5L956.0 649.5L960.1 649.5L964.1 649.5L968.0 649.5L970.9 649.5L975.2 649.5L979.1 649.5L983.1 649.5L986.5 649.5L990.1 649.5L994.3 649.5L998.1 649.5L1002.0 649.5L1005.2 649.5L1009.1 649.5L1013.0 649.5L1017.1 649.5L1021.0 649.5L1023.9 649.5L1028.1 649.5L1032.0 649.5L1035.4 649.5L1039.3 649.5L1043.1 649.5L1047.0 649.5L1049.9 649.5L1051.1 649.5L1053.8 653.4L1057.7 653.4L1062.1 653.4L1066.0 655.4L1069.9 655.4L1073.2 655.4L1077.1 706.3L1080.9 706.3L1084.2 693.0L1088.1 684.0L1092.0 688.6L1095.9 677.8L1099.7 670.0L1103.0 661.2L1106.9 656.2L1110.8 656.9L1115.2 659.6L1118.0 670.4L1122.4 671.1L1126.3 674.2L1130.1 676.5L1132.9 649.5L1137.4 649.5L1141.3 649.6L1145.1 649.5L1149.0 649.5L1152.4 649.5L1156.1 649.5L1160.3 649.5L1166.8 649.5L1171.0 649.5L1175.3 649.5L1179.0 649.5L1182.4 649.5L1186.3 649.5L1190.0 649.5L1194.3 649.5L1198.0 649.5L1201.1 649.5L1205.0 649.5L1208.7 649.5L1213.0 649.5L1216.3 649.5L1220.3 649.5L1224.0 649.5L1227.4 649.5L1231.3 649.5L1235.4 649.5L1238.9 649.5L1243.0 649.5L1246.9 649.5L1250.0 649.5L1254.2 649.5L1257.9 649.5L1261.8 649.5L1265.1 649.5L1269.0 649.5L1272.9 649.5L1272.9 649.5L10.5 649.5Z" fill="url(#gos)" stroke="none"/>
<path d="M10 542.5H1277.0" stroke="#787b86" stroke-width="1" stroke-dasharray="5 6" fill="none" shape-rendering="crispEdges"/>
<path d="M10 649.5H1277.0" stroke="#787b86" stroke-width="1" stroke-dasharray="5 6" fill="none" shape-rendering="crispEdges"/>
<path d="M10 595.5H1277.0" stroke="#787b86" stroke-opacity="0.5" stroke-width="1" stroke-dasharray="5 6" fill="none" shape-rendering="crispEdges"/>
<path d="M10.5 548.3L18.3 545.3L26.3 543.9L30.6 542.2L36.5 543.2L44.5 552.1L52.5 560.2L56.4 562.3L62.8 570.7L71.3 579.2L75.4 584.3L86.4 601.3L97.4 613.7L101.5 620.0L108.6 626.8L115.6 629.0L124.4 632.4L135.3 633.5L142.2 629.0L150.4 626.2L154.5 621.7L161.4 618.3L169.4 612.7L176.5 603.0L184.5 592.0L188.1 588.2L195.5 585.2L199.4 583.1L206.4 578.4L214.4 576.3L221.5 577.0L225.4 578.0L230.0 580.4L236.5 584.3L247.0 587.7L255.5 588.6L263.4 589.4L270.1 590.6L274.5 588.6L278.2 585.7L281.9 584.3L285.5 582.6L289.1 579.2L293.1 577.2L297.0 574.1L301.3 571.6L304.3 571.2L312.3 575.5L319.5 577.2L323.4 577.0L327.4 579.2L331.0 584.3L335.4 588.6L340.3 595.4L346.4 601.3L353.6 610.1L357.5 613.2L365.3 617.1L372.2 623.4L380.4 631.0L387.5 633.5L395.5 635.6L402.5 636.1L410.4 640.0L421.5 643.4L433.4 644.6L440.5 645.4L448.1 643.4L455.4 633.5L459.2 629.3L460.0 628.1L463.4 623.8L470.2 611.1L477.0 597.5L485.5 580.9L493.1 567.8L500.4 557.6L504.1 555.9L508.4 556.3L515.2 547.9L523.1 544.4L529.9 540.1L533.8 537.3L541.8 534.2L546.1 532.2L553.0 531.3L557.1 530.5L561.3 530.5L565.2 532.2L572.0 534.7L575.9 537.6L580.5 543.2L587.0 549.6L591.0 552.5L595.3 556.3L598.3 561.0L606.0 567.0L612.8 572.9L617.0 575.4L625.0 578.3L631.9 584.8L639.9 588.2L647.2 590.7L655.2 593.3L662.0 595.0L670.5 600.1L677.6 605.1L684.9 601.8L689.2 601.2L690.0 600.4L696.8 602.5L704.4 605.0L711.2 607.6L715.1 607.2L718.9 605.2L723.1 604.2L730.1 606.9L738.0 610.3L745.2 613.2L753.1 614.4L760.1 614.0L763.8 615.4L768.1 617.9L775.2 624.5L778.8 623.4L783.0 620.8L791.0 617.4L798.1 611.5L805.9 605.2L813.1 597.9L817.0 594.5L824.1 584.3L828.0 581.8L832.2 580.9L839.9 577.5L842.9 575.5L850.9 577.2L858.0 580.9L866.0 584.3L873.3 586.9L877.2 588.1L885.2 588.6L892.0 594.5L900.0 604.2L903.9 608.9L911.0 614.4L919.2 619.1L920.0 619.4L926.8 625.7L934.4 633.4L938.3 637.3L941.2 638.5L945.1 636.8L953.1 630.5L956.0 624.4L964.1 622.3L970.9 619.3L979.1 616.7L983.1 616.0L990.1 613.3L994.3 612.1L1002.0 616.4L1009.1 622.3L1017.1 622.3L1023.9 626.2L1032.0 626.2L1035.4 623.7L1039.3 622.3L1047.0 622.7L1049.9 622.0L1055.1 624.5L1062.2 627.9L1070.0 632.5L1073.4 633.8L1076.6 638.9L1080.6 645.4L1084.5 652.5L1092.1 662.7L1100.1 670.0L1103.5 672.0L1111.4 672.5L1117.9 674.1L1126.0 676.6L1129.8 674.9L1132.8 670.8L1137.4 666.9L1145.1 661.8L1152.4 656.8L1160.3 654.7L1166.8 652.5L1171.0 649.5L1175.3 646.6L1182.4 638.4L1186.3 636.0L1190.0 632.6L1198.0 623.3L1205.0 615.2L1213.0 608.0L1216.3 604.5L1224.0 599.4L1231.3 595.6L1238.9 592.3L1243.0 592.6L1246.9 594.5L1250.0 593.4L1257.9 593.4L1261.8 592.3L1265.1 590.6L1272.9 590.0" stroke="#fdd835" stroke-width="1.1" fill="none" stroke-linejoin="round"/>
<path d="M10.5 550.7L14.1 561.4L18.3 557.2L22.2 558.0L26.3 558.9L29.5 551.7L33.4 547.8L36.8 577.5L41.4 573.3L44.5 570.7L48.4 568.5L52.5 569.4L56.4 572.4L58.6 609.8L62.8 617.8L67.4 614.4L71.3 614.9L75.4 626.2L78.4 630.1L82.3 633.0L86.4 640.3L90.5 630.5L94.4 630.1L97.4 630.5L101.0 659.9L105.4 623.0L108.6 620.0L112.4 618.3L115.6 636.9L119.7 637.4L124.4 641.2L127.5 625.4L131.4 634.7L135.3 638.1L138.8 601.8L142.2 599.6L146.3 612.3L150.4 615.4L154.1 597.0L157.5 598.7L161.4 598.2L165.5 589.4L169.4 586.4L172.5 573.3L176.5 561.1L180.4 560.6L184.5 557.2L188.1 580.4L191.5 580.1L195.5 580.1L199.4 584.3L203.4 570.2L206.4 577.5L210.5 578.7L214.4 586.9L218.5 593.7L221.5 593.7L225.4 588.6L230.0 588.2L236.5 592.0L240.5 590.6L244.4 597.4L248.3 597.4L252.4 584.0L255.5 581.3L259.5 581.4L263.4 591.4L267.3 588.2L270.1 606.7L274.5 566.5L278.2 541.0L281.9 572.8L285.5 561.4L289.1 542.2L293.1 569.9L297.0 551.6L301.3 563.1L304.3 579.2L307.7 612.7L312.3 608.9L316.4 600.4L319.5 603.0L323.4 601.3L327.4 598.2L331.0 622.5L335.4 617.8L338.1 612.3L342.4 616.6L346.4 620.0L350.5 621.7L353.6 623.0L357.5 627.1L361.0 639.1L365.3 636.9L368.5 638.6L372.2 649.3L376.3 653.6L380.4 651.4L384.5 641.2L387.5 633.0L391.4 631.8L395.5 630.7L399.4 624.2L402.5 624.5L405.9 651.4L410.4 653.6L414.5 653.6L417.6 653.9L421.5 655.1L425.5 655.3L428.9 658.2L433.4 654.3L436.4 648.8L440.5 636.6L444.4 627.1L448.1 608.9L451.5 569.0L455.4 542.7L458.8 597.4L460.0 593.3L462.5 574.6L465.9 560.2L470.5 556.8L474.4 550.0L478.3 546.2L481.7 560.2L485.1 564.4L489.2 550.8L493.1 541.2L496.5 542.3L500.4 542.7L504.1 549.1L508.4 549.5L511.8 527.4L515.2 527.4L519.1 535.6L523.1 528.8L527.0 519.4L529.9 516.9L533.8 521.1L537.7 546.2L541.8 527.1L546.1 516.4L549.1 533.9L553.0 540.1L557.1 531.3L561.0 548.3L564.4 551.2L568.1 546.2L572.0 552.9L575.9 571.5L579.3 572.9L583.4 577.5L587.0 576.6L591.0 583.4L595.3 583.4L612.8 583.4L617.0 578.0L620.9 567.0L625.0 568.1L628.0 611.9L631.9 625.5L636.0 599.5L639.9 605.5L644.2 597.2L647.2 602.6L651.3 595.0L655.2 608.2L658.9 594.1L662.0 603.5L665.9 616.5L670.5 606.3L674.2 600.9L677.6 605.1L681.5 603.5L684.9 584.3L689.2 594.1L690.0 595.4L692.5 604.7L695.9 611.8L700.5 615.7L704.4 619.1L707.8 618.3L711.2 621.7L715.1 603.0L718.9 584.0L723.1 590.6L726.0 613.2L730.1 629.6L734.1 622.5L738.0 612.3L741.8 616.6L745.2 624.5L749.1 621.7L753.1 619.1L757.0 615.4L760.1 617.9L763.8 639.1L768.1 640.0L772.0 639.8L775.2 636.4L778.8 590.3L783.0 590.3L787.1 597.4L791.0 594.5L793.9 573.8L798.1 575.8L802.0 577.2L805.9 576.2L809.2 567.3L813.1 570.7L817.0 582.1L821.0 579.7L824.1 575.5L828.0 594.8L832.2 579.2L836.0 566.2L839.9 576.7L842.9 559.2L846.7 588.6L850.9 586.9L854.6 597.9L858.0 609.3L861.9 590.8L866.0 591.1L869.9 602.5L873.3 594.5L877.2 593.3L881.3 592.8L885.2 588.9L888.3 599.6L892.0 627.9L895.9 633.5L900.0 643.7L903.9 656.5L906.9 637.4L911.0 644.1L914.9 631.8L919.2 621.7L920.0 621.1L922.5 621.5L925.9 644.7L930.5 644.9L934.4 644.9L938.3 644.9L941.2 644.7L945.1 600.6L949.2 592.1L953.1 591.8L956.0 579.4L960.1 622.7L964.1 633.4L968.0 603.7L970.9 602.3L975.2 605.0L979.1 618.1L983.1 640.5L986.5 629.1L990.1 621.1L994.3 628.3L998.1 633.4L1002.0 622.3L1005.2 630.3L1009.1 628.8L1013.0 618.9L1017.1 627.4L1021.0 629.5L1023.9 631.2L1028.1 614.7L1032.0 609.6L1035.4 606.5L1039.3 607.6L1043.1 630.5L1047.0 621.1L1049.9 625.7L1051.1 630.0L1053.8 653.4L1057.7 653.4L1062.1 653.4L1066.0 655.4L1069.9 655.4L1073.2 655.4L1077.1 706.3L1080.9 706.3L1084.2 693.0L1088.1 684.0L1092.0 688.6L1095.9 677.8L1099.7 670.0L1103.0 661.2L1106.9 656.2L1110.8 656.9L1115.2 659.6L1118.0 670.4L1122.4 671.1L1126.3 674.2L1130.1 676.5L1132.9 644.4L1137.4 648.3L1141.3 649.6L1145.1 646.9L1149.0 636.9L1152.4 636.7L1156.1 647.9L1160.3 642.3L1166.8 634.2L1171.0 636.4L1175.3 628.7L1179.0 623.1L1182.4 622.3L1186.3 614.0L1190.0 596.2L1194.3 590.6L1198.0 586.3L1201.1 587.2L1205.0 585.0L1208.7 589.2L1213.0 595.1L1216.3 590.6L1220.3 589.2L1224.0 599.0L1227.4 599.4L1231.3 599.4L1235.4 595.3L1238.9 590.9L1243.0 591.9L1246.9 622.8L1250.0 575.3L1254.2 594.8L1257.9 578.7L1261.8 575.8L1265.1 569.3L1269.0 580.9L1272.9 588.0" stroke="#7e57c2" stroke-width="1.1" fill="none" stroke-linejoin="round"/>
</g>
<path d="M10.0 492.5H1345.0" stroke="#e0e3eb" stroke-width="1" fill="none" shape-rendering="crispEdges"/>
<rect x="10.05" y="27.1" width="1334.95" height="726.9" fill="none" stroke="#f3f3f3" stroke-width="1.9"/>
<text x="10.0" y="20.3" font-size="13" fill="#131722" textLength="446.0" lengthAdjust="spacingAndGlyphs">diksharakshawat created with TradingView.com, Feb 04, 2026 12:26 UTC+5:30</text>
<text x="18.3" y="47.4" font-size="12.6" fill="#131722" textLength="197.0" lengthAdjust="spacingAndGlyphs">U.S. Dollar / Indian Rupee · 30 · ICE</text>
<text x="222.6" y="47.4" font-size="12.6" fill="#131722" textLength="9.2" lengthAdjust="spacingAndGlyphs">O</text>
<text x="232.0" y="47.4" font-size="12.6" fill="#f23645" textLength="48.3" lengthAdjust="spacingAndGlyphs">90.4430</text>
<text x="287.6" y="47.4" font-size="12.6" fill="#131722" textLength="8.6" lengthAdjust="spacingAndGlyphs">H</text>
<text x="296.6" y="47.4" font-size="12.6" fill="#f23645" textLength="46.0" lengthAdjust="spacingAndGlyphs">90.4775</text>
<text x="350.0" y="47.4" font-size="12.6" fill="#131722" textLength="6.4" lengthAdjust="spacingAndGlyphs">L</text>
<text x="357.0" y="47.4" font-size="12.6" fill="#f23645" textLength="47.6" lengthAdjust="spacingAndGlyphs">90.4200</text>
<text x="411.6" y="47.4" font-size="12.6" fill="#131722" textLength="8.4" lengthAdjust="spacingAndGlyphs">C</text>
<text x="420.3" y="47.4" font-size="12.6" fill="#f23645" textLength="47.4" lengthAdjust="spacingAndGlyphs">90.4420</text>
<text x="475.8" y="47.4" font-size="12.6" fill="#f23645" textLength="103.0" lengthAdjust="spacingAndGlyphs">−0.0280 (−0.03%)</text>
<text x="586.5" y="47.4" font-size="12.6" fill="#131722" textLength="17.4" lengthAdjust="spacingAndGlyphs">Vol</text>
<text x="604.4" y="47.4" font-size="12.6" fill="#f23645" textLength="21.8" lengthAdjust="spacingAndGlyphs">363</text>
<text x="633.6" y="47.4" font-size="12.6" fill="#4caf50" textLength="103.4" lengthAdjust="spacingAndGlyphs">+0.0680 (+0.08%)</text>
<text x="18.3" y="64.4" font-size="12.6" fill="#131722" textLength="111.7" lengthAdjust="spacingAndGlyphs">EMA 20/50/100/200</text>
<text x="138.0" y="64.4" font-size="12.6" fill="#ff0000" textLength="45.2" lengthAdjust="spacingAndGlyphs">90.4140</text>
<text x="191.2" y="64.4" font-size="12.6" fill="#ff8000" textLength="45.4" lengthAdjust="spacingAndGlyphs">90.5070</text>
<text x="244.7" y="64.4" font-size="12.6" fill="#00ffff" textLength="45.1" lengthAdjust="spacingAndGlyphs">90.8013</text>
<text x="297.4" y="64.4" font-size="12.6" fill="#0000ff" textLength="44.9" lengthAdjust="spacingAndGlyphs">91.1354</text>
<text x="18.5" y="513.0" font-size="12.6" fill="#131722" textLength="80.0" lengthAdjust="spacingAndGlyphs">RSI (14, close)</text>
<text x="106.4" y="513.0" font-size="12.6" fill="#7e57c2" textLength="30.2" lengthAdjust="spacingAndGlyphs">52.61</text>
<text x="144.0" y="513.0" font-size="12.6" fill="#fdd835" textLength="30.1" lengthAdjust="spacingAndGlyphs">51.88</text>
<text x="1286.7" y="42.1" font-size="12" fill="#131722" textLength="47.5" lengthAdjust="spacingAndGlyphs">92.4000</text>
<text x="1286.7" y="76.7" font-size="12" fill="#131722" textLength="47.5" lengthAdjust="spacingAndGlyphs">92.2000</text>
<text x="1286.7" y="111.3" font-size="12" fill="#131722" textLength="47.5" lengthAdjust="spacingAndGlyphs">92.0000</text>
<text x="1286.7" y="145.9" font-size="12" fill="#131722" textLength="47.5" lengthAdjust="spacingAndGlyphs">91.8000</text>
<text x="1286.7" y="180.5" font-size="12" fill="#131722" textLength="47.5" lengthAdjust="spacingAndGlyphs">91.6000</text>
<text x="1286.7" y="215.1" font-size="12" fill="#131722" textLength="47.5" lengthAdjust="spacingAndGlyphs">91.4000</text>
<text x="1286.7" y="249.7" font-size="12" fill="#131722" textLength="47.5" lengthAdjust="spacingAndGlyphs">91.2000</text>
<text x="1286.7" y="284.2" font-size="12" fill="#131722" textLength="47.5" lengthAdjust="spacingAndGlyphs">91.0000</text>
<text x="1286.7" y="318.8" font-size="12" fill="#131722" textLength="47.5" lengthAdjust="spacingAndGlyphs">90.8000</text>
<text x="1286.7" y="353.4" font-size="12" fill="#131722" textLength="47.5" lengthAdjust="spacingAndGlyphs">90.6000</text>
<text x="1286.7" y="388.0" font-size="12" fill="#131722" textLength="47.5" lengthAdjust="spacingAndGlyphs">90.4000</text>
<text x="1286.7" y="422.6" font-size="12" fill="#131722" textLength="47.5" lengthAdjust="spacingAndGlyphs">90.2000</text>
<text x="1286.7" y="457.2" font-size="12" fill="#131722" textLength="47.5" lengthAdjust="spacingAndGlyphs">90.0000</text>
<text x="1286.7" y="491.8" font-size="12" fill="#131722" textLength="47.5" lengthAdjust="spacingAndGlyphs">89.8000</text>
<text x="1286.7" y="519.1" font-size="12" fill="#131722" textLength="32.6" lengthAdjust="spacingAndGlyphs">80.00</text>
<text x="1286.7" y="572.6" font-size="12" fill="#131722" textLength="32.6" lengthAdjust="spacingAndGlyphs">60.00</text>
<text x="1286.7" y="626.2" font-size="12" fill="#131722" textLength="32.6" lengthAdjust="spacingAndGlyphs">40.00</text>
<text x="1286.7" y="679.7" font-size="12" fill="#131722" textLength="32.6" lengthAdjust="spacingAndGlyphs">20.00</text>
<rect x="1278" y="248.0" width="62.0" height="17.0" rx="2" ry="2" fill="#0000ff"/>
<text x="1286.7" y="260.8" font-size="12" fill="#ffffff" textLength="47.5" lengthAdjust="spacingAndGlyphs">91.1354</text>
<rect x="1278" y="306.0" width="62.0" height="17.0" rx="2" ry="2" fill="#00ffff"/>
<text x="1286.7" y="318.8" font-size="12" fill="#000000" textLength="47.5" lengthAdjust="spacingAndGlyphs">90.8013</text>
<path d="M1278 368.5V353a2 2 0 0 1 2-2H1338a2 2 0 0 1 2 2V368.5Z" fill="#ff8000"/>
<text x="1286.7" y="364.1" font-size="12" fill="#ffffff" textLength="47.5" lengthAdjust="spacingAndGlyphs">90.5070</text>
<rect x="1278" y="368" width="62" height="31.5" fill="#f23645"/>
<text x="1286.7" y="381.3" font-size="12" fill="#ffffff" textLength="47.5" lengthAdjust="spacingAndGlyphs">90.4420</text>
<text x="1286.7" y="395.3" font-size="12" fill="#ffffff" textLength="31.9" lengthAdjust="spacingAndGlyphs" fill-opacity="0.8">03:31</text>
<path d="M1278 399H1340V414a2 2 0 0 1-2 2H1280a2 2 0 0 1-2-2Z" fill="#ff0000"/>
<text x="1286.7" y="411.8" font-size="12" fill="#ffffff" textLength="47.5" lengthAdjust="spacingAndGlyphs">90.4140</text>
<path d="M1278 597V582a2 2 0 0 1 2-2H1323a2 2 0 0 1 2 2V597Z" fill="#7e57c2"/>
<text x="1286.7" y="592.8" font-size="12" fill="#ffffff" textLength="32.6" lengthAdjust="spacingAndGlyphs">52.61</text>
<path d="M1278 597H1325V612a2 2 0 0 1-2 2H1280a2 2 0 0 1-2-2Z" fill="#fdd835"/>
<text x="1286.7" y="609.8" font-size="12" fill="#131722" textLength="32.6" lengthAdjust="spacingAndGlyphs">51.88</text>
<text x="60.5" y="745.0" font-size="12" fill="#131722" textLength="14.0" lengthAdjust="spacingAndGlyphs">24</text>
<text x="214.5" y="745.0" font-size="12" fill="#131722" textLength="14.0" lengthAdjust="spacingAndGlyphs">27</text>
<text x="384.5" y="745.0" font-size="12" fill="#131722" textLength="14.0" lengthAdjust="spacingAndGlyphs">28</text>
<text x="561.5" y="745.0" font-size="12" fill="#131722" textLength="14.0" lengthAdjust="spacingAndGlyphs">29</text>
<text x="738.5" y="745.0" font-size="12" fill="#131722" textLength="14.0" lengthAdjust="spacingAndGlyphs">30</text>
<text x="919.0" y="745.0" font-size="12" fill="#131722" textLength="23.0" lengthAdjust="spacingAndGlyphs" font-weight="bold">Feb</text>
<text x="1066.0" y="745.0" font-size="12" fill="#131722" textLength="7.0" lengthAdjust="spacingAndGlyphs">3</text>
<text x="1198.0" y="745.0" font-size="12" fill="#131722" textLength="7.0" lengthAdjust="spacingAndGlyphs">4</text>
<g fill="#111111">
<path d="M12 776H23.85V790.7H18.1V781.7H12Z"/>
<circle cx="28.9" cy="779" r="2.9"/>
<path d="M35.1 776H41.9L35.9 790.7H29.2Z"/>
</g>
<text x="49.1" y="790.7" font-size="20.2" fill="#111111" textLength="120.8" lengthAdjust="spacingAndGlyphs" font-weight="bold">TradingView</text>
</svg>
</body></html>
